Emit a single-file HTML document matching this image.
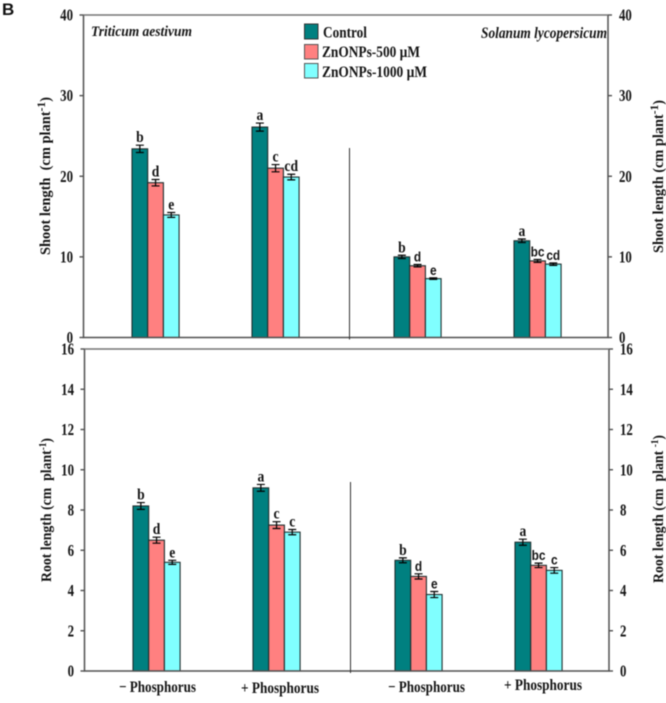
<!DOCTYPE html>
<html lang="en">
<head>
<meta charset="utf-8">
<title>Shoot and root length chart</title>
<style>
html,body{margin:0;padding:0;background:#fff;width:666px;height:703px;overflow:hidden}
svg{display:block;filter:blur(0.45px)}
text{font-family:"Liberation Serif",serif;font-weight:bold;fill:#141414}
</style>
</head>
<body>
<svg id="chart" xmlns="http://www.w3.org/2000/svg" width="666" height="703" viewBox="0 0 666 703">
  <text x="2" y="15" style="font-family:'Liberation Sans',sans-serif;font-size:17px;fill:#111">B</text>

  <text x="91" y="36" font-size="15" font-style="italic" textLength="101" lengthAdjust="spacingAndGlyphs">Triticum aestivum</text>
  <text x="481" y="38" font-size="16" font-style="italic" textLength="126" lengthAdjust="spacingAndGlyphs">Solanum lycopersicum</text>

  <g>
    <rect x="304.5" y="24" width="13.5" height="15" fill="#008080" stroke="#333" stroke-width="1"/>
    <text x="323" y="37.500" font-size="15.500" textLength="44" lengthAdjust="spacingAndGlyphs">Control</text>
    <rect x="304.5" y="44.500" width="13.5" height="14.500" fill="#ff8080" stroke="#555" stroke-width="1"/>
    <text x="322" y="57" font-size="15.500" textLength="98" lengthAdjust="spacingAndGlyphs">ZnONPs-500 µM</text>
    <rect x="304.5" y="63.500" width="13.500" height="14.500" fill="#80ffff" stroke="#555" stroke-width="1"/>
    <text x="322" y="77" font-size="15.500" textLength="105" lengthAdjust="spacingAndGlyphs">ZnONPs-1000 µM</text>
  </g>

  <text x="119" y="692" font-size="16" textLength="77" lengthAdjust="spacingAndGlyphs">− Phosphorus</text>
  <text x="241" y="693" font-size="16" textLength="78" lengthAdjust="spacingAndGlyphs">+ Phosphorus</text>
  <text x="388" y="692" font-size="16" textLength="77" lengthAdjust="spacingAndGlyphs">− Phosphorus</text>
  <text x="504" y="690" font-size="16" textLength="78" lengthAdjust="spacingAndGlyphs">+ Phosphorus</text>

  <text transform="translate(50,255) rotate(-90)" font-size="15" textLength="158" lengthAdjust="spacingAndGlyphs" xml:space="preserve">Shoot length  (cm plant<tspan dy="-5" font-size="12">-1</tspan><tspan dy="5">)</tspan></text>
  <text transform="translate(663,253) rotate(-90)" font-size="15" textLength="153" lengthAdjust="spacingAndGlyphs" xml:space="preserve">Shoot length (cm plant<tspan dy="-5" font-size="12">-1</tspan><tspan dy="5">)</tspan></text>
  <text transform="translate(51,582) rotate(-90)" font-size="15" textLength="144" lengthAdjust="spacingAndGlyphs" xml:space="preserve">Root length (cm  plant<tspan dy="-5" font-size="10">-1</tspan><tspan dy="5">)</tspan></text>
  <text transform="translate(663,583) rotate(-90)" font-size="15" textLength="148" lengthAdjust="spacingAndGlyphs" xml:space="preserve">Root length (cm  plant <tspan dy="-5" font-size="10">-1</tspan><tspan dy="5">)</tspan></text>
</svg>
<script>
var seriesNames = ['control', 'znonps-500', 'znonps-1000'];
var categories = ['triticum-minus-p', 'triticum-plus-p', 'solanum-minus-p', 'solanum-plus-p'];

var shootTicks = [0, 10, 20, 30, 40];
var shootControl = [23.4, 26.1, 10.0, 12.0];
var shoot500 = [19.2, 21.0, 8.9, 9.5];
var shoot1000 = [15.2, 19.9, 7.3, 9.1];
var shootControlErr = [0.45, 0.5, 0.2, 0.22];
var shoot500Err = [0.4, 0.45, 0.15, 0.18];
var shoot1000Err = [0.3, 0.35, 0.1, 0.15];
var shootControlLetters = ['b', 'a', 'b', 'a'];
var shoot500Letters = ['d', 'c', 'd', 'bc'];
var shoot1000Letters = ['e', 'cd', 'e', 'cd'];

var rootTicks = [0, 2, 4, 6, 8, 10, 12, 14, 16];
var rootControl = [8.2, 9.1, 5.5, 6.4];
var root500 = [6.5, 7.25, 4.7, 5.25];
var root1000 = [5.4, 6.9, 3.8, 5.0];
var rootControlErr = [0.17, 0.17, 0.12, 0.15];
var root500Err = [0.15, 0.17, 0.13, 0.11];
var root1000Err = [0.1, 0.13, 0.15, 0.14];
var rootControlLetters = ['b', 'a', 'b', 'a'];
var root500Letters = ['d', 'c', 'd', 'bc'];
var root1000Letters = ['e', 'c', 'e', 'c'];

var NS = 'http://www.w3.org/2000/svg';
var svg = document.getElementById('chart');
var fills = ['#008080', '#ff8080', '#80ffff'];
var AXIS = '#505050';

function mk(tag, attrs, parent) {
  var el = document.createElementNS(NS, tag);
  for (var k in attrs) el.setAttribute(k, attrs[k]);
  (parent || svg).appendChild(el);
  return el;
}

function drawPanel(p) {
  var yScale = function (v) { return p.bottom - (v / p.max) * (p.bottom - p.top); };
  var groupStart = function (i) {
    return p.x0 + Math.floor(i / 2) * 262 + (i % 2) * 120;
  };
  var barW = 15.7;

  var g = mk('g', {});
  
  

  p.series.forEach(function (values, s) {
    values.forEach(function (v, i) {
      var x = groupStart(i) + s * barW;
      var bar = mk('rect', {
        x: x, y: yScale(v), width: barW, height: p.bottom - yScale(v),
        fill: fills[s], stroke: '#1f2f2f', 'stroke-width': 1.1
      }, g);
      
      
    });
  });

  p.series.forEach(function (values, s) {
    values.forEach(function (v, i) {
      var cx = groupStart(i) + s * barW + barW / 2;
      var hi = yScale(v + p.errors[s][i]);
      var lo = yScale(v - p.errors[s][i]);
      var err = mk('path', {
        d: 'M' + (cx - 4) + ' ' + hi + 'H' + (cx + 4) + 'M' + cx + ' ' + hi + 'V' + lo + 'M' + (cx - 4) + ' ' + lo + 'H' + (cx + 4),
        fill: 'none', stroke: '#000', 'stroke-width': 1.2
      }, g);
      
      

      var word = p.letters[s][i];
      var sans = i >= 2 && s > 0;
      var t = mk('text', {
        transform: 'translate(' + cx + ',' + (hi - 3) + ') scale(0.88,1)',
        'text-anchor': 'middle', 'font-size': sans ? 13.5 : 15.5
      }, g);
      if (sans) t.style.fontFamily = '"Liberation Sans", sans-serif';
      t.textContent = word;
      
      
    });
  });

  var frame = mk('path', {
    d: 'M' + p.left + ' ' + p.top + 'V' + p.bottom + 'H' + p.right + 'V' + p.top,
    fill: 'none', stroke: AXIS, 'stroke-width': 1.5
  }, g);
  
  

  var topLine = mk('line', {
    x1: p.left, x2: p.right, y1: p.top, y2: p.top, stroke: '#757575', 'stroke-width': 1.6
  }, g);
  
  

  p.ticks.forEach(function (v) {
    var y = yScale(v);
    var tl = mk('line', { x1: p.left - 4, x2: p.left, y1: y, y2: y, stroke: AXIS, 'stroke-width': 1.4 }, g);
    
    
    var tr = mk('line', { x1: p.right, x2: p.right + 4, y1: y, y2: y, stroke: AXIS, 'stroke-width': 1.4 }, g);
    
    

    var ll = mk('text', {
      transform: 'translate(' + (p.left - 10.5) + ',' + (y + 5.5) + ') scale(0.78,1)',
      'text-anchor': 'end', 'font-size': 16.5
    }, g);
    ll.textContent = v;
    
    
    var lr = mk('text', {
      transform: 'translate(' + (p.right + 11) + ',' + (y + 5.5) + ') scale(0.78,1)',
      'font-size': 16.5
    }, g);
    lr.textContent = v;
    
    
  });

  var sep = mk('line', {
    x1: p.sepX, x2: p.sepX, y1: p.sepTop, y2: p.bottom + 2, stroke: '#333', 'stroke-width': 1
  }, g);
  
  
}

drawPanel({
  name: 'shoot', left: 83.5, right: 608, top: 15, bottom: 337.5, max: 40, x0: 132,
  sepX: 349.5, sepTop: 148, ticks: shootTicks,
  series: [shootControl, shoot500, shoot1000],
  errors: [shootControlErr, shoot500Err, shoot1000Err],
  letters: [shootControlLetters, shoot500Letters, shoot1000Letters]
});
drawPanel({
  name: 'root', left: 84.5, right: 609, top: 349, bottom: 671, max: 16, x0: 133,
  sepX: 350.5, sepTop: 482, ticks: rootTicks,
  series: [rootControl, root500, root1000],
  errors: [rootControlErr, root500Err, root1000Err],
  letters: [rootControlLetters, root500Letters, root1000Letters]
});
</script>
</body>
</html>
